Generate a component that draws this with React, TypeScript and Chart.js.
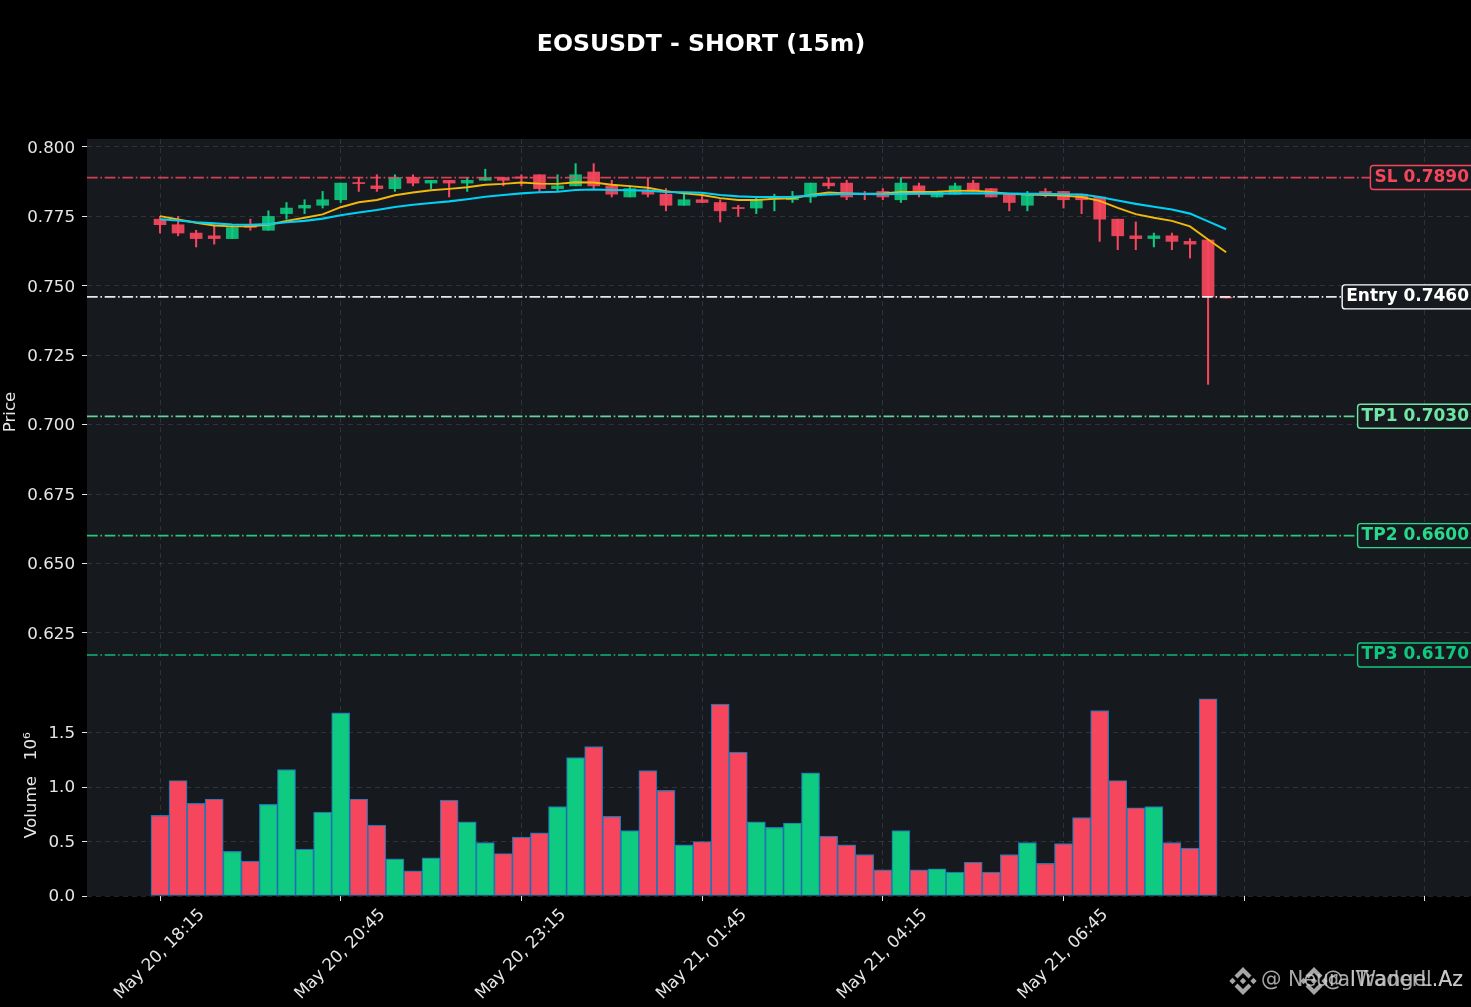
import React, { useEffect, useRef } from "react";
import { Chart, registerables } from "chart.js";

Chart.register(...registerables);

const opens = [.774,.772,.769,.768,.767,.772,.770,.776,.778,.779,.781,.7872,.786,.785,.789,.787,.788,.787,.788,.789,.7892,.790,.785,.786,.791,.786,.782,.784,.783,.779,.781,.780,.7782,.778,.7813,.781,.782,.787,.787,.7832,.784,.781,.786,.782,.783,.787,.785,.783,.779,.784,.784,.783,.782,.774,.768,.767,.768,.766,.7665,.7459];
const closes = [.772,.769,.767,.767,.771,.771,.775,.778,.779,.781,.787,.7868,.785,.789,.787,.788,.787,.788,.789,.788,.7888,.785,.786,.790,.786,.783,.785,.783,.779,.781,.780,.777,.7778,.781,.7817,.782,.787,.786,.782,.7828,.782,.787,.783,.784,.786,.784,.782,.780,.783,.783,.781,.781,.774,.768,.767,.768,.766,.765,.746,.7456];
const highs = [.775,.775,.770,.772,.772,.774,.777,.780,.781,.784,.787,.789,.790,.790,.790,.788,.788,.789,.792,.789,.790,.790,.790,.794,.794,.788,.786,.789,.785,.783,.783,.781,.779,.782,.783,.784,.787,.789,.788,.784,.785,.789,.787,.784,.787,.788,.785,.783,.784,.785,.784,.783,.782,.774,.773,.769,.769,.767,.7665,.7459];
const lows = [.769,.768,.764,.765,.767,.770,.770,.774,.776,.778,.780,.784,.784,.784,.786,.785,.782,.784,.788,.786,.786,.784,.784,.786,.785,.782,.782,.782,.777,.779,.780,.773,.775,.776,.777,.780,.780,.785,.781,.781,.781,.780,.782,.782,.783,.784,.782,.777,.777,.782,.778,.776,.766,.763,.763,.764,.763,.760,.7145,.7456];
const volumes = [.74,1.06,.85,.89,.41,.32,.84,1.16,.43,.77,1.68,.89,.65,.34,.23,.35,.88,.68,.49,.39,.54,.58,.82,1.27,1.37,.73,.60,1.15,.97,.47,.50,1.76,1.32,.68,.63,.67,1.13,.55,.47,.38,.24,.60,.24,.25,.22,.31,.22,.38,.49,.30,.48,.72,1.70,1.06,.81,.82,.49,.44,1.81];
const maFast = [.7751,.7739,.7727,.7717,.7714,.7714,.7720,.7734,.7745,.7757,.7783,.7801,.7809,.7826,.7836,.7844,.7849,.7855,.7864,.7867,.7872,.7868,.7867,.7873,.7872,.7864,.7859,.7853,.7841,.7833,.7827,.7816,.7809,.7809,.7813,.7815,.7827,.7836,.7833,.7831,.7833,.7838,.7838,.7839,.7842,.7843,.7838,.7831,.7829,.7827,.7825,.7820,.7806,.7781,.7758,.7745,.7734,.7714,.7667,.7621];
const maSlow = [.7740,.7735,.7729,.7725,.7721,.7720,.7722,.7729,.7734,.7742,.7754,.7764,.7773,.7784,.7792,.7798,.7804,.7812,.7821,.7827,.7833,.7837,.7839,.7845,.7847,.7845,.7844,.7843,.7838,.7837,.7835,.7827,.7822,.7820,.7820,.7821,.7825,.7829,.7831,.7831,.7830,.7831,.7832,.7832,.7833,.7833,.7833,.7832,.7831,.7831,.7830,.7829,.7820,.7807,.7795,.7785,.7775,.7760,.7732,.7704];

const xTickValues = [0, 10, 20, 30, 40, 50, 60, 70];
const xTickLabels = ["May 20, 18:15", "May 20, 20:45", "May 20, 23:15", "May 21, 01:45", "May 21, 04:15", "May 21, 06:45", "", ""];
const priceTicks = [0.625, 0.65, 0.675, 0.7, 0.725, 0.75, 0.775, 0.8];
const volumeTicks = [0, 0.5, 1, 1.5];

const levelNames = ["SL", "Entry", "TP1", "TP2", "TP3"];
const levelValues = [0.789, 0.746, 0.703, 0.66, 0.617];
const levelColors = ["#f6465d", "#ffffff", "#6ee7a5", "#28d98b", "#10c77f"];
const levelLineColors = ["rgba(246,70,93,0.85)", "rgba(255,255,255,0.9)", "rgba(110,231,165,0.9)", "rgba(40,217,139,0.9)", "rgba(16,199,127,0.9)"];

const watermarks = ["@ NeuralTraderL.Az", "@ IWangel.Az"];

const RED = "#f6465d";
const GREEN = "#0ecb81";
const BODY_RED = "rgba(246,70,93,0.92)";
const BODY_GREEN = "rgba(14,203,129,0.88)";
const TEXT = "#e6e6e6";
const FONT = "'DejaVu Sans'";
const X_MIN = -4.04;
const X_MAX = 72.55;

const isUp = (i: number) => closes[i] >= opens[i];
const grid = "rgba(110,120,130,0.28)";

function diamond(ctx: CanvasRenderingContext2D, cx: number, cy: number, r: number) {
  ctx.beginPath();
  ctx.moveTo(cx, cy - r);
  ctx.lineTo(cx + r, cy);
  ctx.lineTo(cx, cy + r);
  ctx.lineTo(cx - r, cy);
  ctx.closePath();
  ctx.fill();
}

function chevron(ctx: CanvasRenderingContext2D, cx: number, cy: number, dir: number) {
  ctx.beginPath();
  ctx.moveTo(cx, cy + dir * 14);
  ctx.lineTo(cx + 8.5, cy + dir * 5.5);
  ctx.lineTo(cx + 5.5, cy + dir * 2.5);
  ctx.lineTo(cx, cy + dir * 8);
  ctx.lineTo(cx - 5.5, cy + dir * 2.5);
  ctx.lineTo(cx - 8.5, cy + dir * 5.5);
  ctx.closePath();
  ctx.fill();
}

const decorations = {
  id: "decorations",
  beforeDraw(chart: any) {
    const { ctx, chartArea: a } = chart;
    ctx.save();
    ctx.fillStyle = "#000000";
    ctx.fillRect(0, 0, chart.width, chart.height);
    ctx.fillStyle = "#161a1e";
    ctx.fillRect(a.left, a.top, a.right - a.left, a.bottom - a.top);
    ctx.restore();
  },
  afterDraw(chart: any) {
    const { ctx } = chart;
    const y = chart.scales.y;
    ctx.save();
    ctx.fillStyle = "#ffffff";
    ctx.font = `bold 23.6px ${FONT}`;
    ctx.textAlign = "center";
    ctx.textBaseline = "middle";
    ctx.fillText("EOSUSDT - SHORT (15m)", 701, 45);

    ctx.font = `bold 17px ${FONT}`;
    levelNames.forEach((name, i) => {
      const text = `${name} ${levelValues[i].toFixed(4)}`;
      const w = ctx.measureText(text).width;
      const py = y.getPixelForValue(levelValues[i]);
      const tx = 1469 - w;
      ctx.beginPath();
      ctx.roundRect(tx - 4, py - 12, w + 12, 24, 3);
      ctx.fillStyle = "#161a1e";
      ctx.fill();
      ctx.lineWidth = 1.4;
      ctx.strokeStyle = levelColors[i];
      ctx.stroke();
      ctx.fillStyle = levelColors[i];
      ctx.textAlign = "left";
      ctx.fillText(text, tx, py);
    });

    ctx.globalAlpha = 0.8;
    ctx.fillStyle = "#d0d0d0";
    ctx.font = `20.5px ${FONT}`;
    ctx.textAlign = "right";
    watermarks.forEach((t) => ctx.fillText(t, 1463, 981));
    [1243, 1314].forEach((cx) => {
      diamond(ctx, cx, 981, 3.2);
      diamond(ctx, cx - 10.5, 981, 3.2);
      diamond(ctx, cx + 10.5, 981, 3.2);
      chevron(ctx, cx, 981, -1);
      chevron(ctx, cx, 981, 1);
    });
    ctx.restore();
  },
};

export default function App() {
  const ref = useRef<HTMLCanvasElement | null>(null);

  useEffect(() => {
    document.body.style.margin = "0";
    document.body.style.background = "#000";
    const indices = opens.map((_, i) => i);

    const levelSets = levelValues.map((v, i) => ({
      type: "line" as const,
      label: levelNames[i],
      data: [{ x: X_MIN, y: v }, { x: X_MAX, y: v }],
      yAxisID: "y",
      borderColor: levelLineColors[i],
      borderWidth: 1.7,
      borderDash: [10.7, 2.7, 1.6, 2.7],
      pointRadius: 0,
      order: 1,
    }));

    const chart = new Chart(ref.current as HTMLCanvasElement, {
      type: "bar",
      plugins: [decorations],
      data: {
        datasets: [
          ...levelSets,
          {
            type: "line" as const,
            label: "EMA slow",
            data: indices.map((i) => ({ x: i, y: maSlow[i] })),
            yAxisID: "y",
            borderColor: "#00d0f5",
            borderWidth: 2.1,
            pointRadius: 0,
            order: 2,
          },
          {
            type: "line" as const,
            label: "EMA fast",
            data: indices.map((i) => ({ x: i, y: maFast[i] })),
            yAxisID: "y",
            borderColor: "#f0b90b",
            borderWidth: 1.9,
            pointRadius: 0,
            order: 3,
          },
          {
            type: "bar" as const,
            label: "Body",
            data: indices.map((i) => ({ x: i, y: [opens[i], closes[i]] })),
            yAxisID: "y",
            grouped: false,
            barThickness: 12,
            backgroundColor: indices.map((i) => (isUp(i) ? BODY_GREEN : BODY_RED)),
            borderColor: indices.map((i) => (isUp(i) ? BODY_GREEN : BODY_RED)),
            borderWidth: 0,
            borderSkipped: false,
            order: 4,
          },
          {
            type: "bar" as const,
            label: "Wick",
            data: indices.map((i) => ({ x: i, y: [lows[i], highs[i]] })),
            yAxisID: "y",
            grouped: false,
            barThickness: 1.4,
            backgroundColor: indices.map((i) => (isUp(i) ? GREEN : RED)),
            borderWidth: 0,
            order: 5,
          },
          {
            type: "bar" as const,
            label: "Volume",
            data: volumes.map((v, i) => ({ x: i, y: v })),
            yAxisID: "yVol",
            grouped: false,
            barThickness: 18.1,
            backgroundColor: volumes.map((_, i) => (isUp(i) ? GREEN : RED)),
            borderColor: "#1f77b4",
            borderWidth: 1.2,
            borderSkipped: false,
            order: 6,
          },
        ],
      },
      options: {
        responsive: false,
        animation: false,
        layout: { padding: { top: 139, left: 0, right: 0, bottom: 0 } },
        plugins: {
          legend: { display: false },
          title: { display: false },
          tooltip: { enabled: false },
        },
        scales: {
          x: {
            type: "linear",
            offset: false,
            min: X_MIN,
            max: X_MAX,
            afterBuildTicks: (s: any) => {
              s.ticks = xTickValues.map((value) => ({ value }));
            },
            afterFit: (s: any) => {
              s.height = 111;
            },
            grid: { offset: false, color: grid, tickColor: "#e6e6e6", tickLength: 5, tickBorderDash: [] },
            border: { display: false, dash: [5, 4] },
            ticks: {
              autoSkip: false,
              maxRotation: 45,
              minRotation: 45,
              padding: 4,
              labelOffset: 42,
              color: TEXT,
              font: { family: FONT, size: 16.7 },
              callback: (v: any) => xTickLabels[xTickValues.indexOf(Number(v))] ?? "",
            },
          },
          y: {
            type: "linear",
            position: "left",
            weight: 1,
            stack: "panels",
            stackWeight: 546,
            min: 0.6062,
            max: 0.80288,
            afterBuildTicks: (s: any) => {
              s.ticks = priceTicks.map((value) => ({ value }));
            },
            afterFit: (s: any) => {
              s.width = 87;
            },
            grid: { color: grid, tickColor: "#e6e6e6", tickLength: 5, tickBorderDash: [] },
            border: { display: false, dash: [5, 4] },
            title: {
              display: true,
              text: "Price",
              color: TEXT,
              font: { family: FONT, size: 16.7 },
              padding: { top: 1, bottom: 0 },
            },
            ticks: {
              padding: 7,
              labelOffset: 1.5,
              color: TEXT,
              font: { family: FONT, size: 16.7 },
              callback: (v: any) => Number(v).toFixed(3),
            },
          },
          yVol: {
            type: "linear",
            position: "left",
            weight: 0,
            stack: "panels",
            stackWeight: 211,
            min: 0,
            max: 1.9358,
            afterBuildTicks: (s: any) => {
              s.ticks = volumeTicks.map((value) => ({ value }));
            },
            afterFit: (s: any) => {
              s.width = 87;
            },
            grid: { color: grid, tickColor: "#e6e6e6", tickLength: 5, tickBorderDash: [] },
            border: { display: false, dash: [5, 4] },
            title: {
              display: true,
              text: "  Volume   10\u2076",
              color: TEXT,
              font: { family: FONT, size: 16.7 },
              padding: { top: 22, bottom: 0 },
            },
            ticks: {
              padding: 7,
              labelOffset: 1,
              color: TEXT,
              font: { family: FONT, size: 16.7 },
              callback: (v: any) => Number(v).toFixed(1),
            },
          },
        },
      } as any,
    } as any);
    return () => chart.destroy();
  }, []);

  return (
    <canvas
      ref={ref}
      width={1471}
      height={1007}
      style={{ display: "block", width: 1471, height: 1007, background: "#000" }}
    />
  );
}
